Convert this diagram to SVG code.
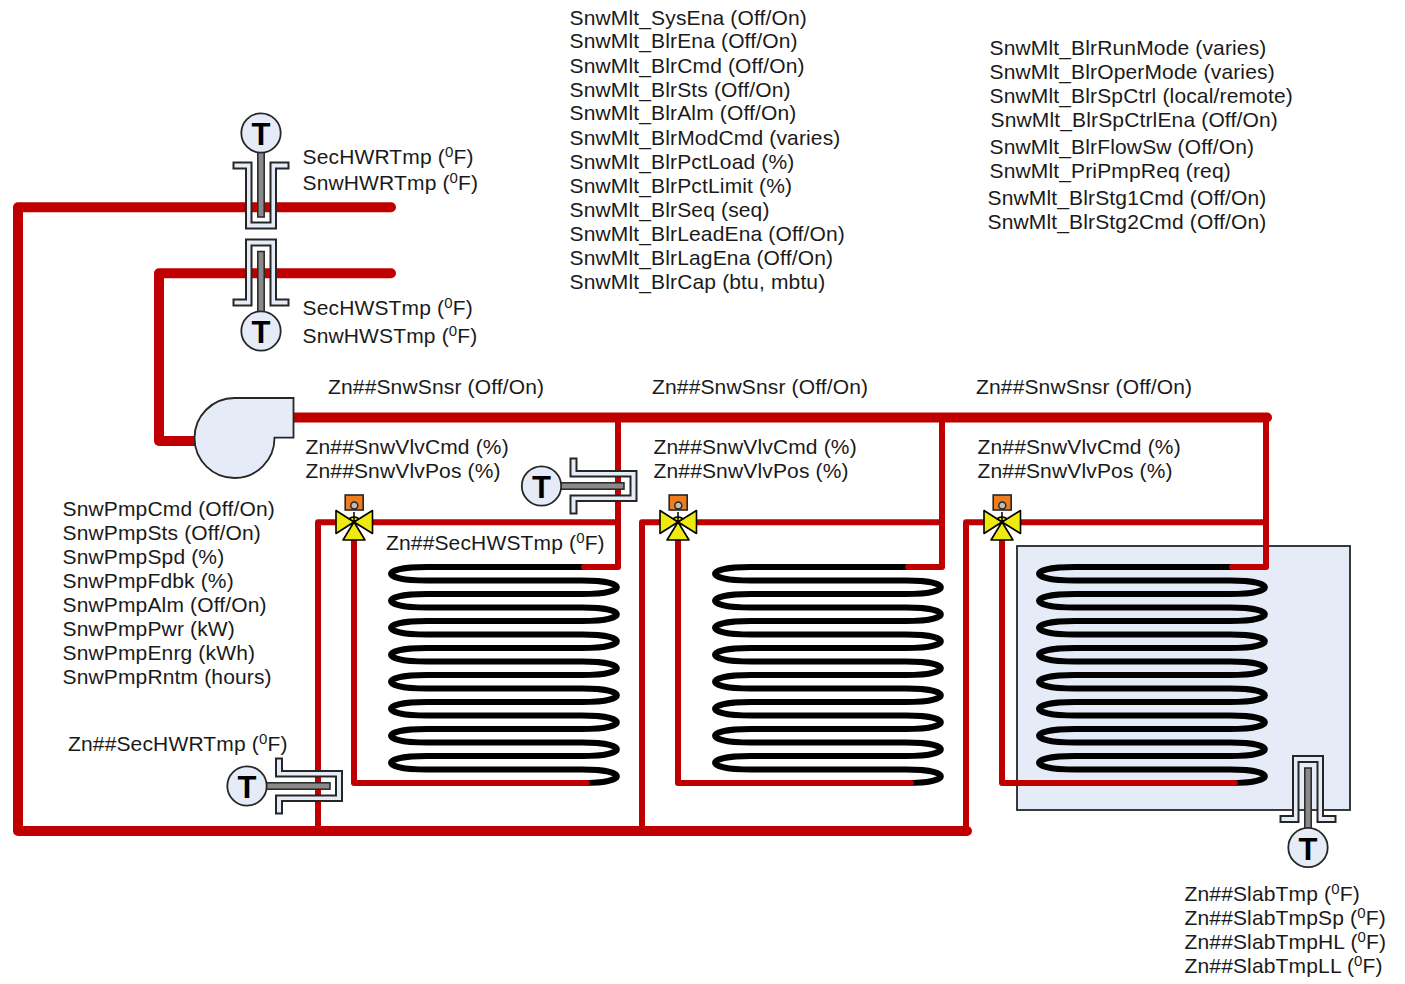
<svg xmlns="http://www.w3.org/2000/svg" xmlns:xlink="http://www.w3.org/1999/xlink" width="1405" height="984" viewBox="0 0 1405 984">
<style>
text{font-family:"Liberation Sans",Arial,sans-serif;font-size:21px;letter-spacing:.15px;fill:#1a1a1a}
.main{fill:none;stroke:#c00000;stroke-width:10;stroke-linecap:round;stroke-linejoin:round}
.br{fill:none;stroke:#c00000;stroke-width:6;stroke-linecap:round;stroke-linejoin:round}
.coil{fill:none;stroke:#000;stroke-width:6}
.eq{fill:#e6ecf7;stroke:#262626;stroke-width:1.8}
.well{fill:#e6ecf7;stroke:#262626;stroke-width:2}
.stem{fill:#8a8a8a;stroke:#262626;stroke-width:1.5}
text.T{font-size:31px;font-weight:bold;text-anchor:middle;fill:#000;letter-spacing:0}
.y{fill:#eeea10;stroke:#000;stroke-width:1.6;stroke-linejoin:round}
text .sup{font-size:15px}
</style>
<defs>
<path id="wellShape" class="well" d="M-27.5 0H-9.5V60H9.5V0H27.5V6H15V66H-15V6H-27.5Z"/>
<path id="coilShape" class="coil" d="M1232 567H1075C1027 567 1027 580.500 1075 580.500H1230C1276.500 580.500 1276.500 594 1230 594H1075C1027 594 1027 607.500 1075 607.500H1230C1276.500 607.500 1276.500 621 1230 621H1075C1027 621 1027 634.500 1075 634.500H1230C1276.500 634.500 1276.500 648 1230 648H1075C1027 648 1027 661.500 1075 661.500H1230C1276.500 661.500 1276.500 675 1230 675H1075C1027 675 1027 688.500 1075 688.500H1230C1276.500 688.500 1276.500 702 1230 702H1075C1027 702 1027 715.500 1075 715.500H1230C1276.500 715.500 1276.500 729 1230 729H1075C1027 729 1027 742.500 1075 742.500H1230C1276.500 742.500 1276.500 756 1230 756H1075C1027 756 1027 769.500 1075 769.500H1230C1276.500 769.500 1276.500 783 1230 783"/>
<g id="valveShape">
<path class="y" d="M-6 0A6.500 6.500 0 0 1 6 0Z" transform="translate(0,-1)"/>
<path class="y" d="M0 0L-18 -11.500V11.500Z"/>
<path class="y" d="M0 0L18.500 -11.500V11.500Z"/>
<path class="y" d="M0 0L-11 18H11Z"/>
<path d="M0 -10V0" stroke="#000" stroke-width="1.500"/>
<rect x="-8.800" y="-27" width="18" height="15" fill="#ee7d22" stroke="#262626" stroke-width="1.600"/>
<circle cx="0.300" cy="-16.500" r="3.500" fill="#bdbdbd" stroke="#262626" stroke-width="1.500"/>
</g>
</defs>

<g id="slab"><rect class="eq" x="1017" y="546" width="333" height="264"/></g>

<g id="coils">
<use xlink:href="#coilShape" href="#coilShape" transform="translate(-648,0)"/>
<use xlink:href="#coilShape" href="#coilShape" transform="translate(-324,0)"/>
<use xlink:href="#coilShape" href="#coilShape"/>
</g>

<g id="connectors">
<path class="main" d="M391 207.300H18V831H967"/>
<path class="main" d="M391 273.300H159V441H196"/>
<path class="main" d="M293 417.500H1267"/>
<path class="br" d="M618 417V567H584"/>
<path class="br" d="M942 417V567H908"/>
<path class="br" d="M1266 417V567H1232"/>
<path class="br" d="M618 522.300H318V830"/>
<path class="br" d="M942 522.300H642V830"/>
<path class="br" d="M1266 522.300H966V830"/>
<path class="br" d="M354 522V783H587"/>
<path class="br" d="M678 522V783H911"/>
<path class="br" d="M1002 522V783H1235"/>
</g>

<g id="pump"><path class="eq" d="M293.500 398V437.700H274.500A40 40 0 1 1 234.500 398Z"/></g>

<g id="valve1"><use xlink:href="#valveShape" href="#valveShape" transform="translate(354,522)"/></g>
<g id="valve2"><use xlink:href="#valveShape" href="#valveShape" transform="translate(678,522)"/></g>
<g id="valve3"><use xlink:href="#valveShape" href="#valveShape" transform="translate(1002,522)"/></g>

<g id="sensorHWR">
<use xlink:href="#wellShape" href="#wellShape" transform="translate(261,162.500)"/>
<rect class="stem" x="257.800" y="150" width="6.400" height="67"/>
<circle class="eq" cx="261" cy="133" r="19.700"/>
<text class="T" x="261" y="145">T</text>
</g>
<g id="sensorHWS">
<use xlink:href="#wellShape" href="#wellShape" transform="translate(261,305.500) rotate(180)"/>
<rect class="stem" x="257.800" y="251.500" width="6.400" height="62"/>
<circle class="eq" cx="261" cy="331" r="19.700"/>
<text class="T" x="261" y="343">T</text>
</g>
<g id="sensorSec">
<use xlink:href="#wellShape" href="#wellShape" transform="translate(570.500,486) rotate(-90)"/>
<rect class="stem" x="555" y="482.800" width="69" height="6.400"/>
<circle class="eq" cx="541.500" cy="486" r="19.700"/>
<text class="T" x="541.500" y="498">T</text>
</g>
<g id="sensorRet">
<use xlink:href="#wellShape" href="#wellShape" transform="translate(276,786) rotate(-90)"/>
<rect class="stem" x="262" y="782.800" width="68" height="6.400"/>
<circle class="eq" cx="247" cy="786" r="19.700"/>
<text class="T" x="247" y="798">T</text>
</g>
<g id="sensorSlab">
<use xlink:href="#wellShape" href="#wellShape" transform="translate(1308,822) rotate(180)"/>
<rect class="stem" x="1304.800" y="768" width="6.400" height="62"/>
<circle class="eq" cx="1308" cy="847.500" r="19.700"/>
<text class="T" x="1308" y="859.500">T</text>
</g>

<g id="labels">
<text x="569.500" y="25">SnwMlt_SysEna (Off/On)</text>
<text x="569.500" y="48">SnwMlt_BlrEna (Off/On)</text>
<text x="569.500" y="73">SnwMlt_BlrCmd (Off/On)</text>
<text x="569.500" y="97">SnwMlt_BlrSts (Off/On)</text>
<text x="569.500" y="120">SnwMlt_BlrAlm (Off/On)</text>
<text x="569.500" y="145">SnwMlt_BlrModCmd (varies)</text>
<text x="569.500" y="169">SnwMlt_BlrPctLoad (%)</text>
<text x="569.500" y="193">SnwMlt_BlrPctLimit (%)</text>
<text x="569.500" y="217">SnwMlt_BlrSeq (seq)</text>
<text x="569.500" y="241">SnwMlt_BlrLeadEna (Off/On)</text>
<text x="569.500" y="265">SnwMlt_BlrLagEna (Off/On)</text>
<text x="569.500" y="289">SnwMlt_BlrCap (btu, mbtu)</text>

<text x="989.500" y="55">SnwMlt_BlrRunMode (varies)</text>
<text x="989.500" y="79">SnwMlt_BlrOperMode (varies)</text>
<text x="989.500" y="103">SnwMlt_BlrSpCtrl (local/remote)</text>
<text x="990.500" y="127">SnwMlt_BlrSpCtrlEna (Off/On)</text>
<text x="989.500" y="154">SnwMlt_BlrFlowSw (Off/On)</text>
<text x="989.500" y="178">SnwMlt_PriPmpReq (req)</text>
<text x="987.500" y="205">SnwMlt_BlrStg1Cmd (Off/On)</text>
<text x="987.500" y="229">SnwMlt_BlrStg2Cmd (Off/On)</text>

<text x="302.500" y="164">SecHWRTmp (<tspan class="sup" dy="-7">0</tspan><tspan dy="7">F)</tspan></text>
<text x="302.500" y="190">SnwHWRTmp (<tspan class="sup" dy="-7">0</tspan><tspan dy="7">F)</tspan></text>
<text x="302.500" y="315">SecHWSTmp (<tspan class="sup" dy="-7">0</tspan><tspan dy="7">F)</tspan></text>
<text x="302.500" y="343">SnwHWSTmp (<tspan class="sup" dy="-7">0</tspan><tspan dy="7">F)</tspan></text>

<text x="328" y="394">Zn##SnwSnsr (Off/On)</text>
<text x="652" y="394">Zn##SnwSnsr (Off/On)</text>
<text x="976" y="394">Zn##SnwSnsr (Off/On)</text>

<text x="305.500" y="454">Zn##SnwVlvCmd (%)</text>
<text x="305.500" y="478">Zn##SnwVlvPos (%)</text>
<text x="653.500" y="454">Zn##SnwVlvCmd (%)</text>
<text x="653.500" y="478">Zn##SnwVlvPos (%)</text>
<text x="977.500" y="454">Zn##SnwVlvCmd (%)</text>
<text x="977.500" y="478">Zn##SnwVlvPos (%)</text>

<text x="386" y="550">Zn##SecHWSTmp (<tspan class="sup" dy="-7">0</tspan><tspan dy="7">F)</tspan></text>
<text x="68" y="751">Zn##SecHWRTmp (<tspan class="sup" dy="-7">0</tspan><tspan dy="7">F)</tspan></text>

<text x="62.500" y="516">SnwPmpCmd (Off/On)</text>
<text x="62.500" y="540">SnwPmpSts (Off/On)</text>
<text x="62.500" y="564">SnwPmpSpd (%)</text>
<text x="62.500" y="588">SnwPmpFdbk (%)</text>
<text x="62.500" y="612">SnwPmpAlm (Off/On)</text>
<text x="62.500" y="636">SnwPmpPwr (kW)</text>
<text x="62.500" y="660">SnwPmpEnrg (kWh)</text>
<text x="62.500" y="684">SnwPmpRntm (hours)</text>

<text x="1184.500" y="901">Zn##SlabTmp (<tspan class="sup" dy="-7">0</tspan><tspan dy="7">F)</tspan></text>
<text x="1184.500" y="925">Zn##SlabTmpSp (<tspan class="sup" dy="-7">0</tspan><tspan dy="7">F)</tspan></text>
<text x="1184.500" y="949">Zn##SlabTmpHL (<tspan class="sup" dy="-7">0</tspan><tspan dy="7">F)</tspan></text>
<text x="1184.500" y="973">Zn##SlabTmpLL (<tspan class="sup" dy="-7">0</tspan><tspan dy="7">F)</tspan></text>
</g>
</svg>
